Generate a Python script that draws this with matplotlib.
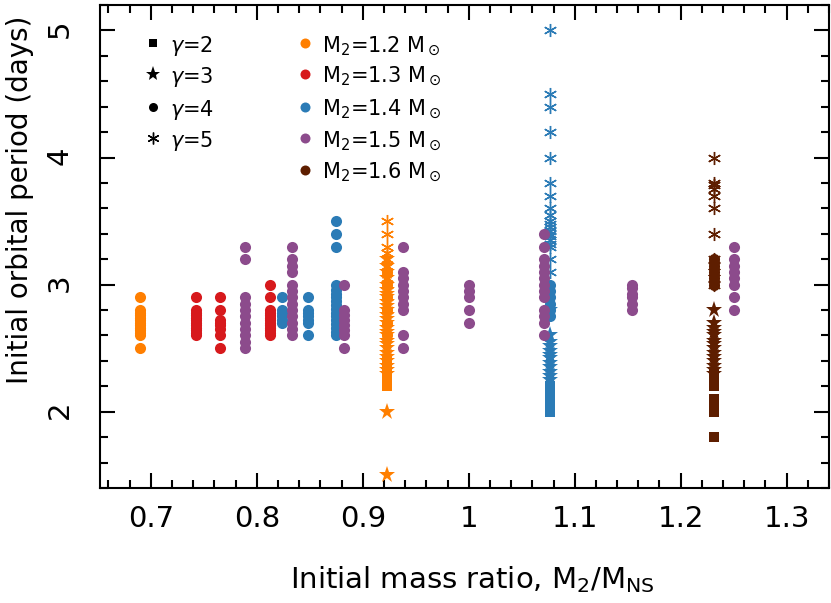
import matplotlib
matplotlib.use("Agg")
import matplotlib.pyplot as plt
from matplotlib.ticker import MultipleLocator

# Companion masses (M_sun) and their colours
m2_values = [1.2, 1.3, 1.4, 1.5, 1.6]
m2_colors = ["#ff7f00", "#d7191c", "#2b7bb6", "#8c4b8c", "#5e1e00"]

# Gamma values, marker shapes and marker sizes (points)
gamma_values = [2, 3, 4, 5]
gamma_markers = ["s", "*", "o", (6, 2, 0)]
gamma_msizes = [6.5, 12.5, 8.0, 9.4]

# Initial orbital periods (days) for each run group: M2, mass ratio q, gamma
# M2 = 1.2
p12_q0690_g4 = [2.5, 2.6, 2.62, 2.64, 2.66, 2.68, 2.7, 2.72, 2.74, 2.76, 2.78, 2.8, 2.9]
p12_q0923_g2 = [2.2, 2.25, 2.3, 2.35, 2.4]
p12_q0923_g3 = [1.5, 2.0, 2.3, 2.33, 2.36, 2.4, 2.43, 2.46, 2.5, 2.53, 2.56, 2.6,
                2.63, 2.66, 2.7, 2.73, 2.76, 2.8, 2.83, 2.86, 2.9, 2.93, 2.96,
                3.0, 3.05, 3.1, 3.15, 3.2]
p12_q0923_g4 = [2.6, 2.7, 2.8, 2.9, 3.0, 3.1]
p12_q0923_g5 = [2.8, 2.9, 3.0, 3.05, 3.1, 3.15, 3.2, 3.25, 3.3, 3.4, 3.5]
# M2 = 1.3
p13_q0743_g4 = [2.6, 2.62, 2.64, 2.66, 2.68, 2.7, 2.72, 2.74, 2.76, 2.78, 2.8, 2.9]
p13_q0765_g4 = [2.5, 2.6, 2.65, 2.68, 2.7, 2.72, 2.8, 2.9]
p13_q0813_g4 = [2.6, 2.62, 2.64, 2.66, 2.68, 2.7, 2.72, 2.74, 2.76, 2.78, 2.8, 2.9, 3.0]
# M2 = 1.4
p14_q0824_g4 = [2.7, 2.72, 2.75, 2.78, 2.8, 2.9]
p14_q0848_g4 = [2.6, 2.7, 2.72, 2.75, 2.78, 2.8, 2.9]
p14_q0875_g4 = [2.6, 2.63, 2.66, 2.69, 2.72, 2.75, 2.78, 2.81, 2.84, 2.87, 2.9,
                2.93, 2.96, 3.0, 3.3, 3.4, 3.5]
p14_q1077_g2 = [2.0, 2.04, 2.08, 2.12, 2.16, 2.2]
p14_q1077_g3 = [2.25, 2.28, 2.31, 2.35, 2.38, 2.42, 2.45, 2.48, 2.52, 2.55, 2.6, 2.8]
p14_q1077_g4 = [2.75, 2.8, 2.85, 2.9, 2.95, 3.0]
p14_q1077_g5 = [3.1, 3.2, 3.3, 3.32, 3.35, 3.38, 3.4, 3.42, 3.45, 3.48, 3.5,
                3.55, 3.6, 3.7, 3.8, 4.0, 4.2, 4.4, 4.5, 5.0]
# M2 = 1.5
p15_q0789_g4 = [2.5, 2.55, 2.6, 2.65, 2.7, 2.75, 2.8, 2.85, 2.9, 3.2, 3.3]
p15_q0833_g4 = [2.6, 2.65, 2.7, 2.75, 2.8, 2.85, 2.9, 2.95, 3.0, 3.1, 3.15, 3.2, 3.3]
p15_q0882_g4 = [2.5, 2.6, 2.64, 2.68, 2.72, 2.76, 2.8, 3.0]
p15_q0938_g4 = [2.5, 2.6, 2.8, 2.85, 2.9, 2.95, 3.0, 3.05, 3.1, 3.3]
p15_q1000_g4 = [2.7, 2.8, 2.9, 2.95, 3.0]
p15_q1071_g4 = [2.6, 2.7, 2.75, 2.8, 2.9, 2.95, 3.0, 3.05, 3.1, 3.15, 3.2, 3.3, 3.4]
p15_q1154_g4 = [2.8, 2.85, 2.9, 2.93, 2.97, 3.0]
p15_q1250_g4 = [2.8, 2.9, 3.0, 3.05, 3.1, 3.15, 3.2, 3.3]
# M2 = 1.6
p16_q1231_g2 = [1.8, 2.0, 2.05, 2.1, 2.2, 2.25, 2.3]
p16_q1231_g3 = [2.3, 2.33, 2.36, 2.4, 2.43, 2.46, 2.5, 2.53, 2.56, 2.6, 2.63,
                2.66, 2.7, 2.8]
p16_q1231_g4 = [3.0, 3.05, 3.1, 3.15, 3.2]
p16_q1231_g5 = [3.0, 3.05, 3.1, 3.15, 3.2, 3.4, 3.6, 3.7, 3.75, 3.78, 3.8, 4.0]

# (M2, q = M2/M_NS, gamma, periods)
runs = [
    (1.2, 0.690, 4, p12_q0690_g4),
    (1.2, 0.923, 2, p12_q0923_g2),
    (1.2, 0.923, 3, p12_q0923_g3),
    (1.2, 0.923, 4, p12_q0923_g4),
    (1.2, 0.923, 5, p12_q0923_g5),
    (1.3, 0.743, 4, p13_q0743_g4),
    (1.3, 0.765, 4, p13_q0765_g4),
    (1.3, 0.8125, 4, p13_q0813_g4),
    (1.4, 0.824, 4, p14_q0824_g4),
    (1.4, 0.848, 4, p14_q0848_g4),
    (1.4, 0.875, 4, p14_q0875_g4),
    (1.4, 1.077, 2, p14_q1077_g2),
    (1.4, 1.077, 3, p14_q1077_g3),
    (1.4, 1.077, 4, p14_q1077_g4),
    (1.4, 1.077, 5, p14_q1077_g5),
    (1.5, 0.789, 4, p15_q0789_g4),
    (1.5, 0.833, 4, p15_q0833_g4),
    (1.5, 0.882, 4, p15_q0882_g4),
    (1.5, 0.9375, 4, p15_q0938_g4),
    (1.5, 1.000, 4, p15_q1000_g4),
    (1.5, 1.071, 4, p15_q1071_g4),
    (1.5, 1.154, 4, p15_q1154_g4),
    (1.5, 1.250, 4, p15_q1250_g4),
    (1.6, 1.231, 2, p16_q1231_g2),
    (1.6, 1.231, 3, p16_q1231_g3),
    (1.6, 1.231, 4, p16_q1231_g4),
    (1.6, 1.231, 5, p16_q1231_g5),
]

plt.rcParams["font.family"] = ["DejaVu Sans"]
plt.rcParams["mathtext.fontset"] = "dejavusans"

fig = plt.figure(figsize=(8.31, 6.03), dpi=100)
ax = fig.add_axes([100 / 831, 1 - 488 / 603, 729 / 831, 483 / 603])

for m2, q, g, periods in runs:
    color = m2_colors[m2_values.index(m2)]
    gi = gamma_values.index(g)
    marker = gamma_markers[gi]
    is_line = g == 5
    ax.plot([q] * len(periods), periods, linestyle="none", marker=marker,
            markersize=gamma_msizes[gi], color=color,
            markeredgewidth=1.0 if is_line else 0.0)

ax.set_xlim(0.652, 1.34)
ax.set_ylim(1.4, 5.2)

ax.xaxis.set_major_locator(MultipleLocator(0.1))
ax.xaxis.set_minor_locator(MultipleLocator(0.02))
ax.yaxis.set_major_locator(MultipleLocator(1))
ax.yaxis.set_minor_locator(MultipleLocator(0.2))
ax.xaxis.set_major_formatter(plt.FuncFormatter(lambda v, p: f"{v:g}"))

ax.tick_params(which="both", direction="in", top=True, right=True, width=1.5)
ax.tick_params(which="major", length=11)
ax.tick_params(which="minor", length=5.5)
ax.tick_params(axis="x", labelsize=21, pad=12)
ax.tick_params(axis="y", labelsize=21, pad=19, labelrotation=90)
for s in ax.spines.values():
    s.set_linewidth(1.5)

ax.set_xlabel(r"Initial mass ratio, M$_2$/M$_{\rm NS}$", fontsize=21)
ax.set_ylabel("Initial orbital period (days)", fontsize=20)
ax.xaxis.set_label_coords((472 - 100) / 729, (488 - 580) / 483)
ax.yaxis.set_label_coords((20 - 100) / 729, (488 - 200) / 483)
ax.xaxis.label.set_va("center")
ax.yaxis.label.set_va("center")

# Legend for gamma (marker shape)
g_rows = [42.7, 74.3, 106.7, 138.3]
g_leg_sizes = [6.3, 11.0, 6.5, 8.5]
for gi, g in enumerate(gamma_values):
    yy = (488 - g_rows[gi]) / 483
    m = gamma_markers[gi]
    ax.plot([(153 - 100) / 729], [yy], transform=ax.transAxes, linestyle="none",
            marker=m, markersize=g_leg_sizes[gi], color="black",
            markeredgewidth=1.0 if g == 5 else 0.0, clip_on=False)
    ax.text((170 - 100) / 729, yy, rf"$\gamma$={g}", transform=ax.transAxes,
            fontsize=15, va="center_baseline", ha="left")

# Legend for companion mass (colour)
m_rows = [43.3, 74.0, 106.7, 138.3, 170.0]
for mi, m2 in enumerate(m2_values):
    yy = (488 - m_rows[mi]) / 483
    ax.plot([(305 - 100) / 729], [yy], transform=ax.transAxes, linestyle="none",
            marker="o", markersize=7.2, color=m2_colors[mi],
            markeredgewidth=0.0, clip_on=False)
    ax.text((322 - 100) / 729, yy, rf"M$_2$={m2:.1f} M$_\odot$",
            transform=ax.transAxes, fontsize=15, va="center_baseline", ha="left")

fig.savefig("out.png", dpi=100)
